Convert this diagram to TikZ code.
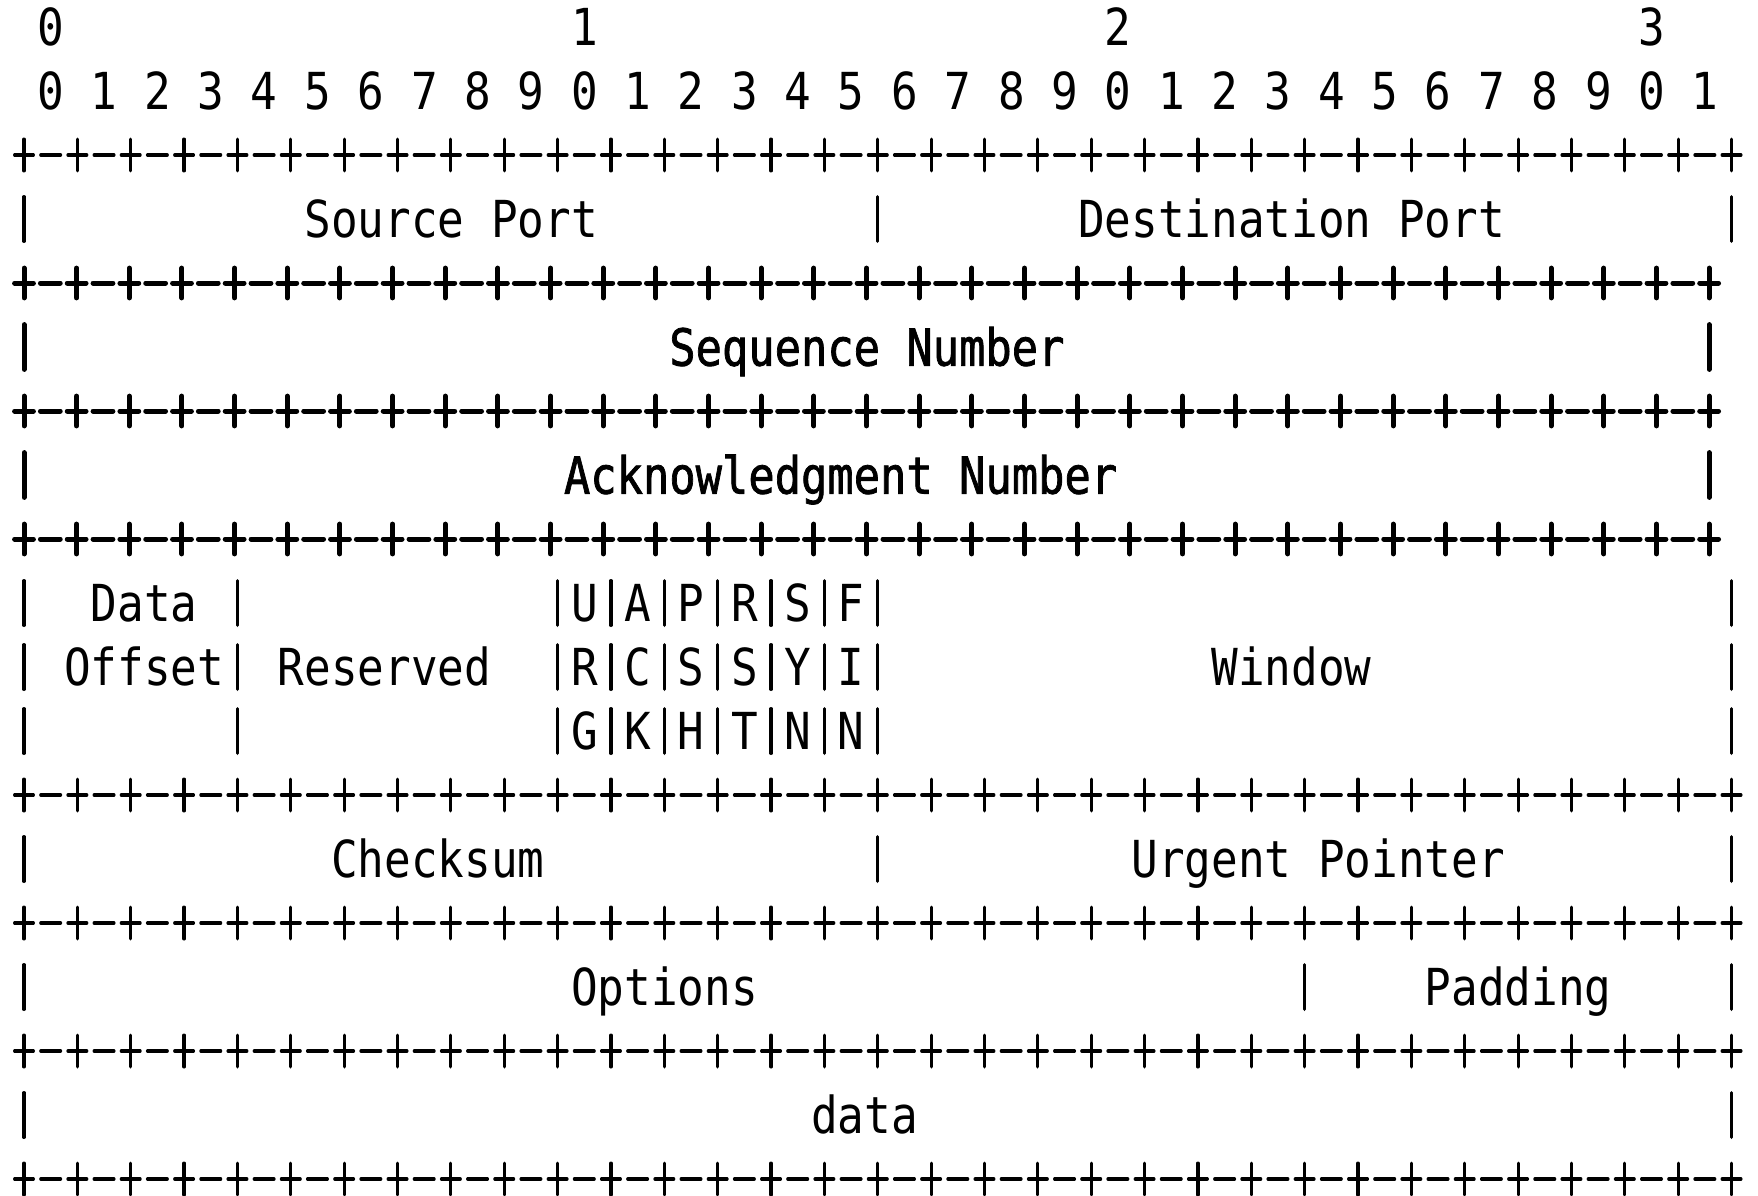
\documentclass[tikz,border=0pt]{standalone}
\usepackage{fontspec}
\setmonofont{DejaVu Sans Mono}
\newfontfamily\medmono[FakeBold=1.6]{DejaVu Sans Mono}
\def\cw{26.68}
\def\cb{26.33}
\tikzset{
  thin line/.style={line width=3.2pt, line cap=round},
  bold line/.style={line width=5pt, line cap=round},
  lbl/.style={anchor=base west, inner sep=0pt, font=\ttfamily\fontsize{51}{51}\selectfont},
  blbl/.style={anchor=base west, inner sep=0pt, font=\medmono\fontsize{51}{51}\selectfont}
}
% border row: #1 = y, #2 = char width, #3 = style, #4 = half height of cross
\newcommand\borderrow[4]{%
  \foreach \k in {0,2,...,64} {
    \draw[#3] ({24+\k*#2-11+1.6},{#1}) -- ({24+\k*#2+11-1.6},{#1});
    \draw[#3] ({24+\k*#2},{#1-#4+1.6}) -- ({24+\k*#2},{#1+#4-1.6});
  }
  \foreach \k in {1,3,...,63} {
    \draw[#3] ({24+\k*#2-11.5+1.6},{#1}) -- ({24+\k*#2+11.5-1.6},{#1});
  }
}
% vertical bar: #1 = column, #2 = y, #3 = char width, #4 = style
\newcommand\vbar[4]{%
  \draw[#4] ({24+#1*#3},{#2-22.4}) -- ({24+#1*#3},{#2+22.4});
}
\begin{document}
\begin{tikzpicture}[x=1pt,y=-1pt]
\useasboundingbox (0,0) rectangle (1758,1196);
% header numbers
\node[lbl] (t0) at ({24+(1-0.5)*\cw},{27+18.6}) {\scalebox{0.869}[1]{0}};
\node[lbl] (t1) at ({24+(21-0.5)*\cw},{27+18.6}) {\scalebox{0.869}[1]{1}};
\node[lbl] (t2) at ({24+(41-0.5)*\cw},{27+18.6}) {\scalebox{0.869}[1]{2}};
\node[lbl] (t3) at ({24+(61-0.5)*\cw},{27+18.6}) {\scalebox{0.869}[1]{3}};
\node[lbl] (bits) at ({24+(1-0.5)*\cw},{91+18.6}) {\scalebox{0.869}[1]{0 1 2 3 4 5 6 7 8 9 0 1 2 3 4 5 6 7 8 9 0 1 2 3 4 5 6 7 8 9 0 1}};
% borders
\borderrow{155}{\cw}{thin line}{17.5}
\borderrow{283}{\cb}{bold line}{16.5}
\borderrow{411}{\cb}{bold line}{16.5}
\borderrow{539}{\cb}{bold line}{16.5}
\borderrow{795}{\cw}{thin line}{17.5}
\borderrow{923}{\cw}{thin line}{17.5}
\borderrow{1051}{\cw}{thin line}{17.5}
\borderrow{1179}{\cw}{thin line}{17.5}
% line 3: ports
\foreach \c in {0,32,64} {\vbar{\c}{219}{\cw}{thin line}}
\node[lbl] (srcport) at ({24+(11-0.5)*\cw},{219+18.6}) {\scalebox{0.869}[1]{Source Port}};
\node[lbl] (dstport) at ({24+(40-0.5)*\cw},{219+18.6}) {\scalebox{0.869}[1]{Destination Port}};
% line 5: sequence number
\foreach \c in {0,64} {\vbar{\c}{347}{\cb}{bold line}}
\node[blbl] (seq) at ({24+(25-0.5)*\cb},{347+18.6}) {\scalebox{0.858}[1]{Sequence Number}};
% line 7: acknowledgment number
\foreach \c in {0,64} {\vbar{\c}{475}{\cb}{bold line}}
\node[blbl] (ack) at ({24+(21-0.5)*\cb},{475+18.6}) {\scalebox{0.858}[1]{Acknowledgment Number}};
% lines 9-11: offset, reserved, flags, window
\foreach \y in {603,667,731} {
  \foreach \c in {0,8,20,22,24,26,28,30,32,64} {\vbar{\c}{\y}{\cw}{thin line}}
}
\node[lbl] (data1) at ({24+(3-0.5)*\cw},{603+18.6}) {\scalebox{0.869}[1]{Data}};
\node[lbl] (offset) at ({24+(2-0.5)*\cw},{667+18.6}) {\scalebox{0.869}[1]{Offset}};
\node[lbl] (reserved) at ({24+(10-0.5)*\cw},{667+18.6}) {\scalebox{0.869}[1]{Reserved}};
\node[lbl] (flags1) at ({24+(21-0.5)*\cw},{603+18.6}) {\scalebox{0.869}[1]{U A P R S F}};
\node[lbl] (flags2) at ({24+(21-0.5)*\cw},{667+18.6}) {\scalebox{0.869}[1]{R C S S Y I}};
\node[lbl] (flags3) at ({24+(21-0.5)*\cw},{731+18.6}) {\scalebox{0.869}[1]{G K H T N N}};
\node[lbl] (window) at ({24+(45-0.5)*\cw},{667+18.6}) {\scalebox{0.869}[1]{Window}};
% line 13: checksum, urgent pointer
\foreach \c in {0,32,64} {\vbar{\c}{859}{\cw}{thin line}}
\node[lbl] (checksum) at ({24+(12-0.5)*\cw},{859+18.6}) {\scalebox{0.869}[1]{Checksum}};
\node[lbl] (urgent) at ({24+(42-0.5)*\cw},{859+18.6}) {\scalebox{0.869}[1]{Urgent Pointer}};
% line 15: options, padding
\foreach \c in {0,48,64} {\vbar{\c}{987}{\cw}{thin line}}
\node[lbl] (options) at ({24+(21-0.5)*\cw},{987+18.6}) {\scalebox{0.869}[1]{Options}};
\node[lbl] (padding) at ({24+(53-0.5)*\cw},{987+18.6}) {\scalebox{0.869}[1]{Padding}};
% line 17: data
\foreach \c in {0,64} {\vbar{\c}{1115}{\cw}{thin line}}
\node[lbl] (data2) at ({24+(30-0.5)*\cw},{1115+18.6}) {\scalebox{0.869}[1]{data}};
\end{tikzpicture}
\end{document}
